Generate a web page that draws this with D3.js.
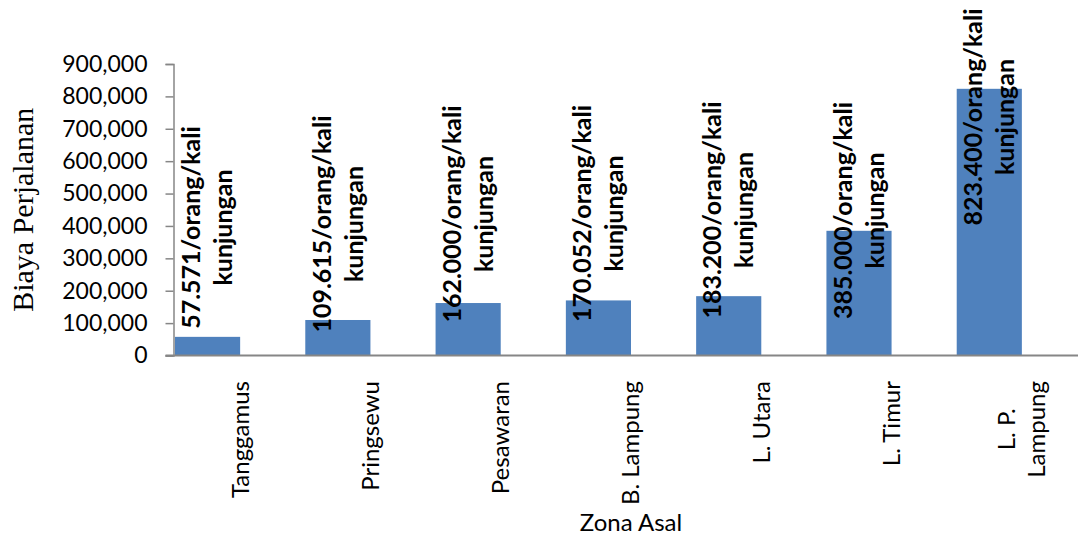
<!DOCTYPE html>
<html>
<head>
<meta charset="utf-8">
<script src="https://cdn.jsdelivr.net/npm/d3@7"></script>
<style>
  html, body { margin: 0; padding: 0; background: #fff; }
  svg { display: block; }
</style>
</head>
<body>
<svg id="chart" width="1078" height="539"></svg>
<script>
// ---- data ----
const categories = ["Tanggamus", "Pringsewu", "Pesawaran", "B. Lampung", "L. Utara", "L. Timur", "L. P.\nLampung"];
const values = [57571, 109615, 162000, 170052, 183200, 385000, 823400];
const dataLabels = [
  "57.571/orang/kali\nkunjungan",
  "109.615/orang/kali\nkunjungan",
  "162.000/orang/kali\nkunjungan",
  "170.052/orang/kali\nkunjungan",
  "183.200/orang/kali\nkunjungan",
  "385.000/orang/kali\nkunjungan",
  "823.400/orang/kali\nkunjungan"
];
// value level at which each (manually placed) data label is centred
const labelAnchors = [395200, 406000, 436900, 438400, 449200, 447700, 736400];
const yTicks = [0, 100000, 200000, 300000, 400000, 500000, 600000, 700000, 800000, 900000];
const seriesNames = ["Biaya", "(kosong)"];
const yTitle = "Biaya Perjalanan";
const xTitle = "Zona Asal";

// ---- layout ----
const svg = d3.select("#chart");
const axisX = 173.5;
const baseY = 355.5;
const topY = 64;
const barColor = "#4F81BD";
const axisColor = "#868686";

const y = d3.scaleLinear().domain([0, 900000]).range([baseY, topY]);
const x = d3.scaleBand().domain(categories).range([175, 1087]).padding(0);
const xs = d3.scaleBand().domain(seriesNames).range([0, x.bandwidth()]).padding(0);

// bars
svg.append("g").selectAll("rect")
  .data(values)
  .join("rect")
  .attr("x", (d, i) => x(categories[i]) + xs(seriesNames[0]))
  .attr("y", d => y(d))
  .attr("width", xs.bandwidth())
  .attr("height", d => y(0) - y(d))
  .attr("fill", barColor);

// y axis
const yAxis = d3.axisLeft(y).tickValues(yTicks).tickFormat(d3.format(",")).tickSizeOuter(0).tickSize(8).tickPadding(18);
const gy = svg.append("g").attr("transform", `translate(${axisX},0)`).call(yAxis);
gy.select(".domain").attr("stroke", axisColor).attr("stroke-width", 1.5);
gy.selectAll(".tick line").attr("stroke", axisColor).attr("stroke-width", 1.5);
gy.selectAll(".tick text")
  .attr("font-family", "Lato, 'Open Sans', sans-serif")
  .attr("font-size", 23)
  .attr("fill", "#000");

// x axis line
const xAxis = d3.axisBottom(x).tickSize(0).tickFormat("");
const gx = svg.append("g").attr("transform", `translate(0,${baseY})`).call(xAxis);
gx.select(".domain").attr("stroke", axisColor).attr("stroke-width", 2)
  .attr("d", `M${axisX - 8},0H1078`);

// x category labels (rotated)
const xLabelFont = 24;
const xLabelTop = 381;
const xg = svg.append("g").attr("font-family", "Lato, 'Open Sans', sans-serif").attr("font-size", xLabelFont).attr("fill", "#000");
categories.forEach((c, i) => {
  const lines = c.split("\n");
  const g = xg.append("g");
  const texts = lines.map((ln, j) => g.append("text")
    .attr("text-anchor", "middle")
    .attr("y", (j - (lines.length - 1) / 2) * 30)
    .attr("dy", "0.35em")
    .text(ln));
  const maxLen = d3.max(texts, t => t.node().getComputedTextLength());
  texts.forEach(t => t.attr("x", -maxLen / 2));
  g.attr("transform", `translate(${x(c) + x.bandwidth() / 2},${xLabelTop}) rotate(-90)`);
});

// data labels (rotated, bold)
const dl = svg.append("g").attr("font-family", "Lato, 'Open Sans', sans-serif")
  .attr("font-size", 25).attr("font-weight", "bold").attr("fill", "#000");
dataLabels.forEach((lab, i) => {
  const lines = lab.split("\n");
  const cx = x(categories[i]) + xs(seriesNames[0]) + xs.bandwidth() / 2;
  const g = dl.append("g").attr("transform", `translate(${cx},${y(labelAnchors[i])}) rotate(-90)`);
  lines.forEach((ln, j) => g.append("text")
    .attr("text-anchor", "middle")
    .attr("x", 0)
    .attr("y", (j - (lines.length - 1) / 2) * 32)
    .attr("dy", "0.35em")
    .text(ln));
});

// axis titles
svg.append("text")
  .attr("transform", `translate(33,${(topY + baseY) / 2 + 0}) rotate(-90)`)
  .attr("text-anchor", "middle")
  .attr("font-family", "'Liberation Serif', 'Times New Roman', serif")
  .attr("font-size", 30)
  .attr("fill", "#000")
  .text(yTitle);

svg.append("text")
  .attr("x", 631)
  .attr("y", 531)
  .attr("text-anchor", "middle")
  .attr("font-family", "Lato, 'Open Sans', sans-serif")
  .attr("font-size", 24)
  .attr("fill", "#000")
  .text(xTitle);
</script>
</body>
</html>
